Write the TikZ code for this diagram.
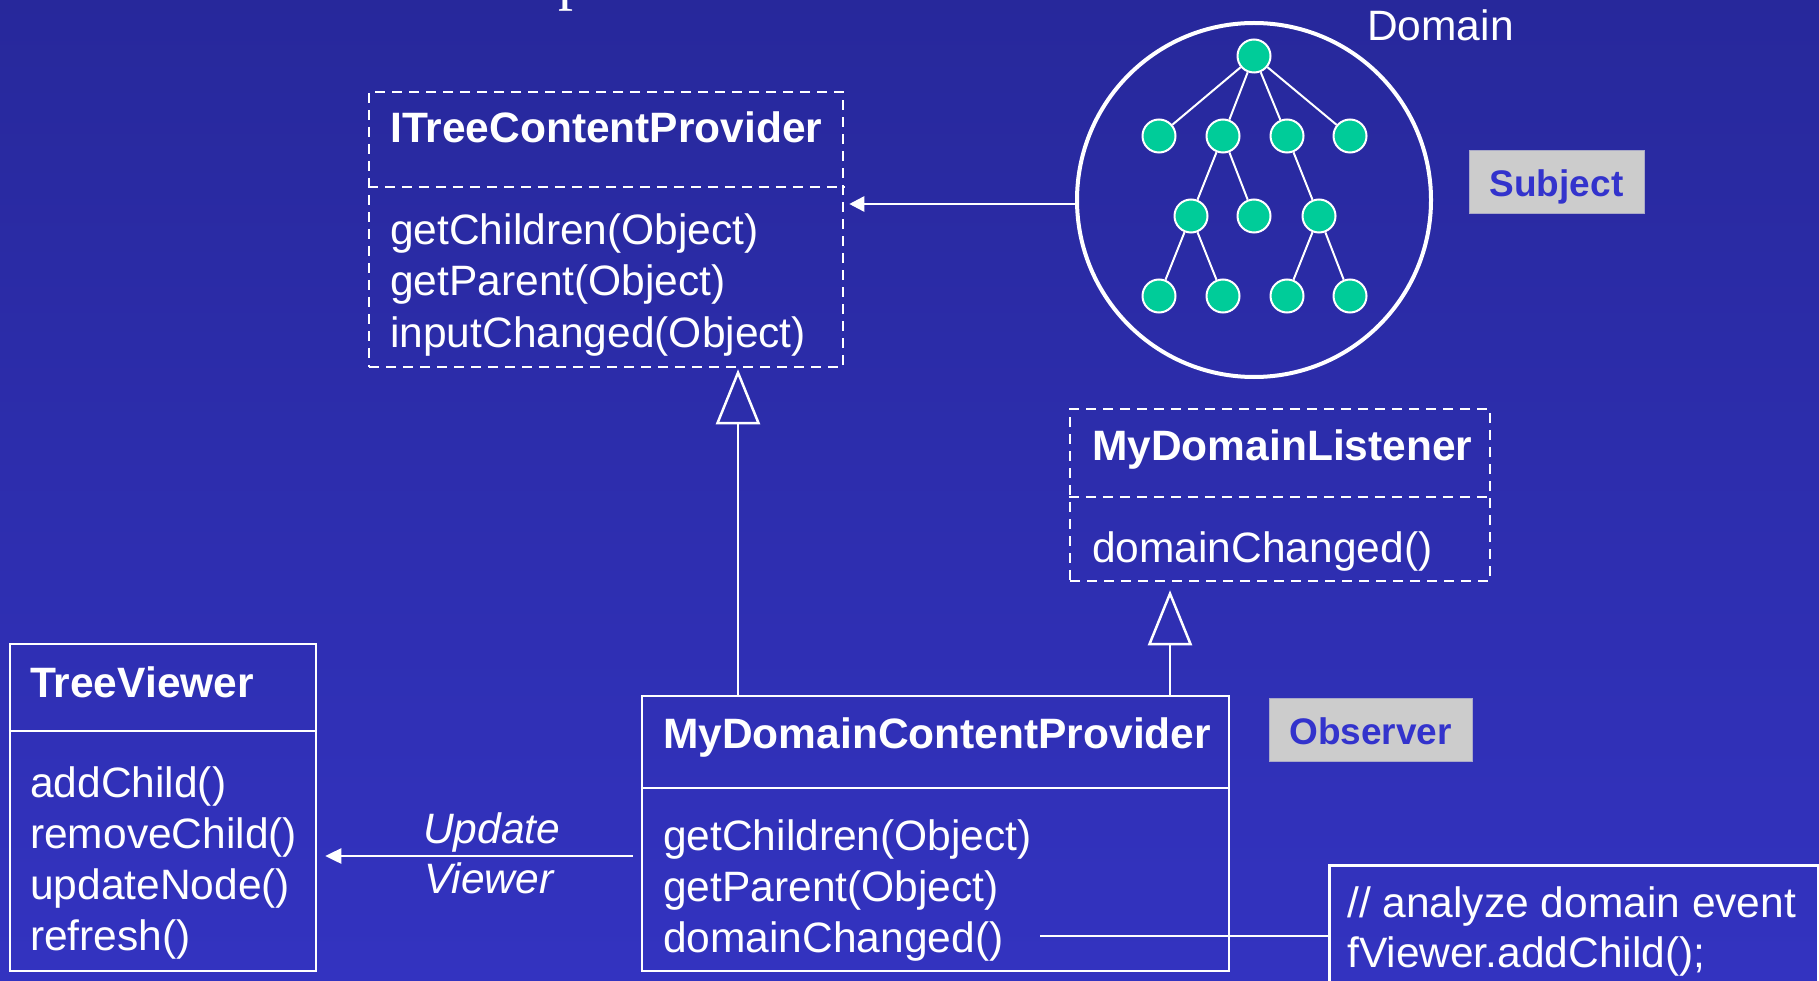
\documentclass[tikz,border=0pt]{standalone}
\usepackage{fontspec}
\setmainfont{Liberation Sans}
\newfontfamily\serifp{Liberation Serif}
\usetikzlibrary{arrows.meta}
\definecolor{bgtop}{RGB}{39,40,155}
\definecolor{bgbot}{RGB}{51,51,192}
\definecolor{nodegreen}{RGB}{0,204,153}
\definecolor{tagfill}{RGB}{204,204,204}
\definecolor{tagtext}{RGB}{51,51,204}
\definecolor{tagline}{RGB}{170,170,200}
\tikzset{
  txt/.style={font=\fontsize{42.5}{51}\selectfont, text=white, inner sep=0pt, anchor=base west},
  ttl/.style={txt, font=\fontsize{42.5}{51}\selectfont\bfseries},
  itl/.style={txt, font=\fontsize{42.5}{51}\selectfont\itshape},
  dashbox/.style={rectangle, draw=white, line width=2.5pt, dash pattern=on 10pt off 7pt, inner sep=0pt},
  solidbox/.style={rectangle, draw=white, line width=2.5pt, inner sep=0pt},
  dashline/.style={draw=white, line width=2.5pt, dash pattern=on 10pt off 7pt},
  solidline/.style={draw=white, line width=2.5pt},
  tagbox/.style={rectangle, fill=tagfill, draw=tagline, line width=1pt, text=tagtext,
    font=\fontsize{37}{44}\selectfont\bfseries, inner sep=0pt, text height=29pt, text depth=0pt},
  treenode/.style={circle, fill=nodegreen, draw=white, line width=2pt, minimum size=33pt, inner sep=0pt},
  treeedge/.style={draw=white, line width=2pt},
  inherit/.style={draw=white, line width=2.5pt, -{Triangle[open, length=55pt, width=44pt]}},
  callarrow/.style={draw=white, line width=2.5pt, -{Triangle[length=16pt, width=15pt]}}
}
\begin{document}
\begin{tikzpicture}[x=1pt,y=-1pt]
\useasboundingbox (0,0) rectangle (1819,981);
\clip (0,0) rectangle (1819,981);
\shade[top color=bgtop, bottom color=bgbot] (0,0) rectangle (1819,981);

% remnant of a title above the picture
\node[font=\serifp\fontsize{60}{60}\selectfont, text=white, inner sep=0pt, anchor=base west] (titlep) at (558,-1) {p};

% ITreeContentProvider
\node[dashbox, minimum width=474pt, minimum height=275pt] (itcp) at (606,229.5) {};
\coordinate (itcpdiv) at (0,187);
\draw[dashline] (itcpdiv -| itcp.west) -- (itcpdiv -| itcp.east);
\node[ttl] (itcpT) at (390,143) {ITreeContentProvider};
\node[txt] (itcpM1) at (390,245) {getChildren(Object)};
\node[txt] (itcpM2) at (390,296) {getParent(Object)};
\node[txt] (itcpM3) at (390,347) {inputChanged(Object)};

% Domain
\node[circle, draw=white, line width=4pt, minimum size=354pt, inner sep=0pt] (domain) at (1254,200) {};
\node[txt] (domlbl) at (1367,41) {Domain};
\node[treenode] (r) at (1254,56) {};
\node[treenode] (a1) at (1159,136) {};
\node[treenode] (a2) at (1223,136) {};
\node[treenode] (a3) at (1287,136) {};
\node[treenode] (a4) at (1350,136) {};
\node[treenode] (b1) at (1191,216) {};
\node[treenode] (b2) at (1254,216) {};
\node[treenode] (b3) at (1319,216) {};
\node[treenode] (c1) at (1159,296) {};
\node[treenode] (c2) at (1223,296) {};
\node[treenode] (c3) at (1287,296) {};
\node[treenode] (c4) at (1350,296) {};
\draw[treeedge] (r) -- (a1);
\draw[treeedge] (r) -- (a2);
\draw[treeedge] (r) -- (a3);
\draw[treeedge] (r) -- (a4);
\draw[treeedge] (a2) -- (b1);
\draw[treeedge] (a2) -- (b2);
\draw[treeedge] (a3) -- (b3);
\draw[treeedge] (b1) -- (c1);
\draw[treeedge] (b1) -- (c2);
\draw[treeedge] (b3) -- (c3);
\draw[treeedge] (b3) -- (c4);

\node[tagbox, minimum width=175pt, minimum height=63pt] (subject) at (1556.5,182.5) {Subject};

\coordinate (ay) at (0,204);
\draw[white, line width=2.5pt, -{Triangle[length=15pt, width=15pt]}, shorten >=5pt] (domain.west |- ay) -- (itcp.east |- ay);

% MyDomainListener
\node[dashbox, minimum width=420pt, minimum height=172pt] (mdl) at (1280,495) {};
\coordinate (mdldiv) at (0,497);
\draw[dashline] (mdldiv -| mdl.west) -- (mdldiv -| mdl.east);
\node[ttl] (mdlT) at (1092,460) {MyDomainListener};
\node[txt] (mdlM1) at (1092,562) {domainChanged()};

% MyDomainContentProvider
\node[solidbox, minimum width=587pt, minimum height=275pt] (mdcp) at (935.5,833.5) {};
\coordinate (mdcpdiv) at (0,788);
\draw[solidline] (mdcpdiv -| mdcp.west) -- (mdcpdiv -| mdcp.east);
\node[ttl] (mdcpT) at (663,748) {MyDomainContentProvider};
\node[txt] (mdcpM1) at (663,850) {getChildren(Object)};
\node[txt] (mdcpM2) at (663,901) {getParent(Object)};
\node[txt] (mdcpM3) at (663,952) {domainChanged()};

\node[tagbox, minimum width=203pt, minimum height=63pt] (observer) at (1370.5,729.5) {Observer};

% TreeViewer
\node[solidbox, minimum width=306pt, minimum height=327pt] (tv) at (163,807.5) {};
\coordinate (tvdiv) at (0,731);
\draw[solidline] (tvdiv -| tv.west) -- (tvdiv -| tv.east);
\node[ttl] (tvT) at (30,697) {TreeViewer};
\node[txt] (tvM1) at (30,797) {addChild()};
\node[txt] (tvM2) at (30,848) {removeChild()};
\node[txt] (tvM3) at (30,899) {updateNode()};
\node[txt] (tvM4) at (30,950) {refresh()};

% note
\node[solidbox, minimum width=489pt, minimum height=160pt, anchor=north west] (note) at (1328,864) {};
\node[txt] (noteL1) at (1347,917) {// analyze domain event};
\node[txt] (noteL2) at (1347,967) {fViewer.addChild();};

% connectors
\coordinate (ix1) at (738,0);
\draw[inherit, shorten >=1pt] (mdcp.north -| ix1) -- (itcp.south -| ix1);
\coordinate (ix2) at (1170,0);
\draw[inherit, shorten >=8pt] (mdcp.north -| ix2) -- (mdl.south -| ix2);
\coordinate (uy) at (0,856);
\draw[callarrow, shorten <=8pt, shorten >=8pt] (mdcp.west |- uy) -- (tv.east |- uy);
\node[itl] (updlbl) at (423,843) {Update};
\node[itl] (vwrlbl) at (424,893) {Viewer};
\coordinate (dcs) at (1040,936);
\draw[solidline] (dcs) -- (note.west |- dcs);
\end{tikzpicture}
\end{document}
